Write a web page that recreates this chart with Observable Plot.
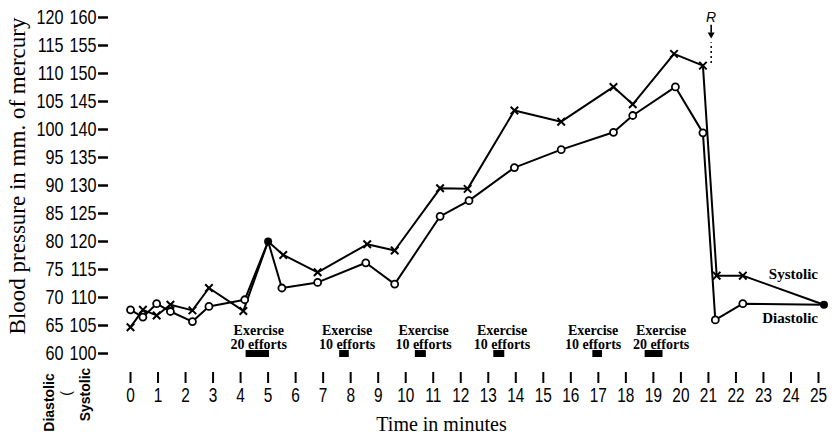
<!DOCTYPE html>
<html><head><meta charset="utf-8">
<script src="https://cdn.jsdelivr.net/npm/d3@7"></script>
<script src="https://cdn.jsdelivr.net/npm/@observablehq/plot@0.6"></script>
<style>
html,body{margin:0;padding:0;background:#fff;}
#chart svg{display:block}
</style></head><body><div id="chart"></div>
<script>
// Systolic readings (mm Hg) with x markers
const sysTime = [0, 0.45, 0.95, 1.45, 2.25, 2.85, 4.1, 5, 5.55, 6.8, 8.6, 9.6, 11.25, 12.25, 13.95, 15.65, 17.55, 18.25, 19.75, 20.8, 21.3, 22.25, 25.2];
const sysVal  = [104.7, 107.8, 106.8, 108.7, 107.7, 111.7, 107.6, 120, 117.6, 114.5, 119.5, 118.4, 129.5, 129.4, 143.4, 141.4, 147.6, 144.5, 153.5, 151.4, 113.9, 113.9, 108.7];
// Diastolic readings (mm Hg) with open circles
const diaTime = [0, 0.45, 0.95, 1.45, 2.25, 2.85, 4.15, 5, 5.5, 6.8, 8.55, 9.6, 11.25, 12.3, 13.95, 15.65, 17.55, 18.25, 19.8, 20.8, 21.25, 22.25, 25.2];
const diaVal  = [67.8, 66.5, 68.9, 67.5, 65.7, 68.4, 69.6, 80, 71.7, 72.7, 76.2, 72.4, 84.5, 87.3, 93.2, 96.4, 99.5, 102.5, 107.6, 99.4, 66, 68.9, 68.7];
// Exercise periods (minutes) and where their captions sit (minutes)
const exStart     = [4.2, 7.6, 10.35, 13.2, 16.8, 18.7];
const exEnd       = [5.05, 7.95, 10.75, 13.6, 17.15, 19.35];
const exEfforts   = [20, 10, 10, 10, 10, 20];
const exLabelTime = [4.66, 7.87, 10.65, 13.5, 16.81, 19.28];
// Release marker
const markTime  = [21.1];
const markLabel = ["R"];
// Tick values
const diaTicks = d3.range(60, 121, 5);   // diastolic scale
const sysOffset = 40;                    // systolic scale = diastolic + 40
const xTicks = d3.range(0, 26);

const systolic = sysTime.map((t, i) => ({t, v: sysVal[i], y: sysVal[i] - sysOffset}));
const diastolic = diaTime.map((t, i) => ({t, v: diaVal[i], y: diaVal[i]}));
const shared = systolic.filter(s => diastolic.some(d => d.t === s.t && Math.abs(d.y - s.y) < 0.05));
const isShared = p => shared.some(s => s.t === p.t && Math.abs(s.y - p.y) < 0.05);
const exercise = exStart.map((s, i) => ({start: s, end: exEnd[i], n: exEfforts[i], at: exLabelTime[i]}));
const marks = markTime.map((t, i) => ({t, label: markLabel[i]}));

const NARROW = "'Liberation Sans',Arimo,sans-serif";
const SANSB = "'Liberation Sans',Arial,sans-serif";
const SERIF = "'Liberation Serif','DejaVu Serif',serif";

const chart = Plot.plot({
  width: 839, height: 439,
  marginLeft: 108, marginRight: 21, marginTop: 17, marginBottom: 67,
  x: {domain: [-0.8, 25]},
  y: {domain: [56.61, 120]},
  style: {background: "white", color: "black", fontFamily: SERIF, overflow: "visible"},
  marks: [
    // axes
    Plot.axisY({ticks: diaTicks, tickSize: 10, tickPadding: 2, tickFormat: d => d + sysOffset,
      strokeWidth: 2.5, fontSize: 21, fontFamily: NARROW, label: null}),
    Plot.axisY({ticks: diaTicks, tickSize: 0, tickPadding: 45, tickFormat: d => d,
      fontSize: 21, fontFamily: NARROW, label: null}),
    Plot.axisX({ticks: xTicks, tickSize: 11, tickPadding: 4, tickFormat: d => d,
      strokeWidth: 2, fontSize: 20, fontFamily: NARROW, label: null}),
    // axis titles
    Plot.text(["Blood pressure in mm. of mercury"], {frameAnchor: "left", textAnchor: "middle", rotate: -90, dx: -91, dy: -19,
      fontSize: 23, fontFamily: SERIF}),
    Plot.text(["Time in minutes"], {frameAnchor: "bottom", lineAnchor: "bottom", dx: -22, dy: 58,
      fontSize: 20, fontFamily: SERIF}),
    Plot.text(["Diastolic"], {frameAnchor: "bottom-left", textAnchor: "middle", lineAnchor: "middle", rotate: -90, dx: -59, dy: 30,
      fontSize: 14, fontWeight: "bold", fontFamily: SANSB}),
    Plot.text(["("], {frameAnchor: "bottom-left", textAnchor: "middle", lineAnchor: "middle", rotate: -90, dx: -42, dy: 21,
      fontSize: 14, fontFamily: SANSB}),
    Plot.text(["Systolic"], {frameAnchor: "bottom-left", textAnchor: "middle", lineAnchor: "middle", rotate: -90, dx: -23, dy: 22,
      fontSize: 14, fontWeight: "bold", fontFamily: SANSB}),
    // exercise bars and labels
    Plot.ruleY(exercise, {x1: "start", x2: "end", y: () => 60, strokeWidth: 7, stroke: "black"}),
    Plot.text(exercise, {x: "at", y: () => 60, text: d => `Exercise\n${d.n} efforts`,
      lineAnchor: "bottom", dy: -5, lineHeight: 1.0, fontSize: 14, fontWeight: "bold", fontFamily: SERIF}),
    // release marker: label, arrow, dotted lead
    Plot.text(marks, {x: "t", frameAnchor: "top", text: "label", lineAnchor: "top", dy: -5,
      fontSize: 14, fontStyle: "italic", fontFamily: "'Liberation Sans',sans-serif"}),
    Plot.ruleX(marks, {x: "t", y1: () => 118.6, y2: () => 117.2, strokeWidth: 1.6}),
    Plot.dot(marks, {x: "t", y: () => 116.95, symbol: "triangle", rotate: 180, r: 2.6, fill: "black", stroke: "none"}),
    Plot.ruleX(marks, {x: "t", y1: () => 111.8, y2: () => 115.5, strokeWidth: 1.5, strokeDasharray: "2,3"}),
    // series lines
    Plot.line(systolic, {x: "t", y: "y", stroke: "black", strokeWidth: 2}),
    Plot.line(diastolic, {x: "t", y: "y", stroke: "black", strokeWidth: 2}),
    Plot.dot(systolic.filter(p => !isShared(p)), {x: "t", y: "y", symbol: "times", r: 3.5, stroke: "black", strokeWidth: 2}),
    Plot.dot(diastolic.filter(p => !isShared(p)), {x: "t", y: "y", symbol: "circle", r: 3.5, fill: "white", stroke: "black", strokeWidth: 1.8}),
    Plot.dot(shared, {x: "t", y: "y", r: 4, fill: "black"}),
    // series labels
    Plot.text(systolic, Plot.selectLast({x: "t", y: "y", text: () => "Systolic", textAnchor: "end", lineAnchor: "bottom",
      dx: -6, dy: -26, fontSize: 15, fontWeight: "bold", fontFamily: SERIF})),
    Plot.text(diastolic, Plot.selectLast({x: "t", y: "y", text: () => "Diastolic", textAnchor: "end", lineAnchor: "bottom",
      dx: -6, dy: 18, fontSize: 15, fontWeight: "bold", fontFamily: SERIF}))
  ]
});
document.getElementById("chart").appendChild(chart);
// condense the tick-label glyphs (the original uses a condensed typeface)
chart.querySelectorAll('g[aria-label="y-axis tick label"] text, g[aria-label="x-axis tick label"] text').forEach(el => {
  const L = el.getComputedTextLength();
  el.setAttribute("textLength", (L * 0.77).toFixed(2));
  el.setAttribute("lengthAdjust", "spacingAndGlyphs");
});
</script>
</body></html>
